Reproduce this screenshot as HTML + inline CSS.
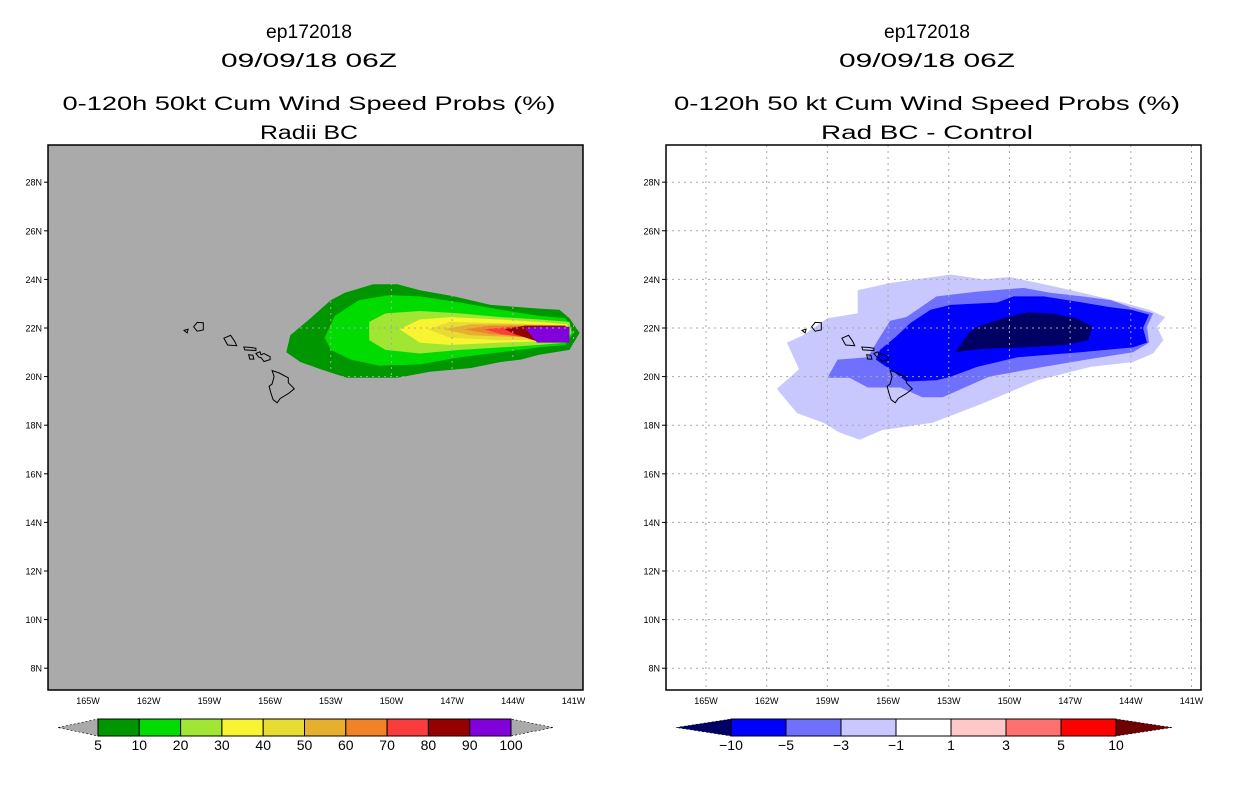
<!DOCTYPE html>
<html><head><meta charset="utf-8"><style>
html,body{margin:0;padding:0;background:#fff;width:1236px;height:800px;overflow:hidden}
svg text{font-family:"Liberation Sans",sans-serif;fill:#000}
</style></head><body>
<svg id="chart" width="1236" height="800" viewBox="0 0 1236 800" xmlns="http://www.w3.org/2000/svg"></svg>
<script>
// ---- data ----
const lonTicks=[165,162,159,156,153,150,147,144,141];
const latTicks=[8,10,12,14,16,18,20,22,24,26,28];
const probLevels=[5,10,20,30,40,50,60,70,80,90,100];
const probColors=['#009600','#00dc00','#a0e632','#f8f432','#e6dc32','#e6af2d','#f08228','#fa3c3c','#960000','#8200dc'];
const diffLevels=[-10,-5,-3,-1,1,3,5,10];
const diffColors=['#000064','#0000ff','#7070ff','#c8c8ff','#ffffff','#ffc8c8','#ff7070','#ff0000','#6e0000'];
// contour polygons [lonW, latN]
const prob5=[[155.2,21.0],[155.0,21.7],[154.0,22.4],[153.0,23.15],[152.3,23.45],[150.9,23.8],[149.7,23.8],[148.6,23.55],[146.9,23.3],[145.1,22.95],[142.7,22.8],[141.7,22.75],[141.2,22.4],[140.7,21.8],[141.2,21.1],[142.7,20.9],[143.6,20.7],[144.6,20.6],[146.1,20.35],[148.1,20.2],[149.7,19.95],[152.2,19.95],[153.5,20.3],[154.5,20.6]];
const prob10=[[153.3,21.6],[152.8,22.5],[151.6,23.15],[150.1,23.35],[148.6,23.3],[146.6,23.05],[144.6,22.75],[142.7,22.5],[141.4,22.4],[141.0,21.8],[141.4,21.3],[142.7,21.2],[144.6,21.0],[146.6,20.8],[148.6,20.5],[150.6,20.45],[152.0,20.7],[153.0,21.1]];
const prob20=[[151.1,22.25],[150.3,22.6],[148.6,22.7],[146.6,22.6],[144.6,22.45],[142.7,22.35],[141.2,22.25],[141.1,21.8],[141.4,21.4],[142.7,21.3],[144.6,21.2],[146.6,21.1],[148.6,20.95],[150.3,21.1],[151.1,21.5]];
const prob30=[[149.6,21.95],[148.6,22.35],[147.1,22.45],[144.6,22.35],[142.7,22.25],[141.3,22.15],[141.2,21.7],[142.7,21.45],[144.6,21.4],[147.1,21.3],[148.6,21.4]];
const prob40=[[148.2,21.95],[147.1,22.25],[144.6,22.2],[142.7,22.15],[141.3,22.1],[141.3,21.75],[142.7,21.5],[144.6,21.5],[147.1,21.6]];
const prob50=[[147.4,21.95],[146.1,22.15],[144.1,22.15],[141.4,22.1],[141.3,21.8],[142.7,21.6],[144.6,21.65],[146.1,21.7]];
const prob60=[[146.4,21.95],[145.1,22.1],[141.4,22.05],[141.4,21.7],[143.6,21.65],[145.1,21.75]];
const prob70=[[145.4,21.95],[144.1,22.05],[141.4,22.05],[141.4,21.5],[143.2,21.6],[144.6,21.75]];
const prob80=[[144.4,21.95],[143.4,22.1],[141.4,22.1],[141.4,21.45],[142.8,21.45],[143.9,21.75]];
const prob90=[[143.4,22.0],[142.9,22.05],[141.2,22.05],[141.2,21.4],[142.8,21.4]];
const probContours=[prob5,prob10,prob20,prob30,prob40,prob50,prob60,prob70,prob80,prob90];
const diff1=[[161.5,19.5],[160.4,20.3],[161.0,21.4],[160.2,21.7],[159.0,22.4],[157.5,22.6],[157.5,23.55],[155.9,23.85],[152.9,24.2],[151.3,24.0],[150.0,24.1],[148.0,23.75],[146.4,23.45],[144.4,23.05],[143.1,22.75],[142.3,22.45],[142.7,22.05],[142.4,21.5],[142.9,20.95],[143.9,20.6],[146.0,20.4],[148.6,19.85],[151.3,18.9],[153.8,18.1],[156.3,17.8],[157.4,17.4],[158.4,17.7],[159.2,18.1],[160.5,18.5]];
const diff3=[[159.0,19.95],[158.5,20.7],[157.0,20.8],[156.5,21.5],[155.9,22.3],[155.1,22.45],[153.6,23.3],[151.6,23.5],[149.3,23.65],[148.0,23.45],[146.4,23.3],[145.0,23.15],[144.0,22.85],[142.9,22.6],[143.2,22.05],[143.1,21.4],[143.9,21.0],[146.2,20.7],[149.0,20.3],[151.0,20.0],[153.3,19.15],[154.3,19.15],[155.4,19.55],[157.0,19.55],[157.9,19.95]];
const diff5=[[156.6,20.7],[156.4,21.1],[155.6,21.65],[154.9,22.2],[153.9,22.75],[152.9,22.95],[150.6,23.05],[149.8,23.3],[148.3,23.3],[146.4,23.05],[145.0,22.85],[144.0,22.75],[143.1,22.55],[143.4,22.0],[143.2,21.4],[143.9,21.2],[146.5,21.0],[149.6,20.8],[151.6,20.4],[152.9,20.0],[153.6,19.85],[155.1,19.8],[155.9,20.3]];
const diff10=[[152.7,21.0],[152.0,21.8],[151.6,22.05],[150.3,22.4],[149.1,22.65],[148.0,22.6],[146.7,22.4],[145.9,22.05],[146.1,21.5],[147.2,21.3],[149.3,21.2],[151.3,21.15]];
const diffContours=[diff1,diff3,diff5,diff10];
// island outlines [lonW, latN]
const islands=[
 [[155.9,20.25],[155.8,20.0],[155.9,19.7],[156.05,19.6],[155.95,19.3],[155.85,19.05],[155.65,18.92],[155.5,19.1],[155.1,19.3],[154.8,19.5],[155.1,19.75],[155.1,19.95],[155.55,20.15]],
 [[156.7,20.95],[156.55,20.8],[156.45,20.78],[156.3,20.62],[156.0,20.7],[156.0,20.82],[156.3,20.95],[156.45,20.9],[156.5,21.02]],
 [[157.3,21.22],[157.25,21.1],[156.7,21.07],[156.7,21.17],[157.0,21.2]],
 [[157.06,20.9],[156.85,20.88],[156.8,20.72],[157.0,20.72]],
 [[158.28,21.58],[158.1,21.3],[157.65,21.27],[157.75,21.45],[157.95,21.7]],
 [[159.78,22.05],[159.6,22.23],[159.3,22.22],[159.3,21.92],[159.6,21.87]],
 [[160.25,21.9],[160.05,21.95],[160.1,21.8]]
];
// ---- axes ----
const panels=[{x0:48,name:'radii-bc'},{x0:666,name:'difference'}];
const Y0=145,Y1=690,PX=20.23,PY=24.3;
function xOf(p,lonW){return p.x0+40+(165-lonW)*PX;}
function yOf(lat){return 328-(lat-22)*PY;}
const NS='http://www.w3.org/2000/svg';
const svg=document.getElementById('chart');
function mk(tag,attrs,parent){const e=document.createElementNS(NS,tag);for(const k in attrs)e.setAttribute(k,attrs[k]);(parent||svg).appendChild(e);return e;}
function pts(p,arr){return arr.map(d=>xOf(p,d[0]).toFixed(1)+','+yOf(d[1]).toFixed(1)).join(' ');}

panels.forEach((p,pi)=>{
  const g=mk('g',{});
  
  
  const clipId='clip'+pi;
  const cp=mk('clipPath',{id:clipId},g);mk('rect',{x:p.x0,y:Y0,width:535,height:Y1-Y0},cp);
  const bg=mk('rect',{x:p.x0,y:Y0,width:535,height:Y1-Y0,fill:pi===0?'#aaaaaa':'#ffffff'},g);
  
  
  const cg=mk('g',{'clip-path':'url(#'+clipId+')'},g);
  const conts=pi===0?probContours:diffContours;
  const cols=pi===0?probColors:diffColors.slice(0,4).reverse();
  conts.forEach((c,ci)=>{
    const pl=mk('polygon',{points:pts(p,c),fill:cols[ci]},cg);
    
    
  });
  // grid
  lonTicks.forEach(l=>{const x=xOf(p,l);mk('line',{x1:x,x2:x,y1:Y0,y2:Y1,stroke:'#a8a8a8','stroke-dasharray':'2,4','stroke-width':1},cg);});
  latTicks.forEach(l=>{const y=yOf(l);mk('line',{x1:p.x0,x2:p.x0+535,y1:y,y2:y,stroke:'#a8a8a8','stroke-dasharray':'2,4','stroke-width':1},cg);});
  islands.forEach(is=>{const ip=mk('polygon',{points:pts(p,is),fill:'none',stroke:'#000','stroke-width':1},cg);
    
    });
  mk('rect',{x:p.x0,y:Y0,width:535,height:Y1-Y0,fill:'none',stroke:'#000','stroke-width':1.5},g);
  lonTicks.forEach(l=>{const x=xOf(p,l);
    const t=mk('text',{x:x,y:Y1+14,'font-size':9,'text-anchor':'middle'},g);t.textContent=l+'W';
    
    });
  latTicks.forEach(l=>{const y=yOf(l);mk('line',{x1:p.x0-4,x2:p.x0,y1:y,y2:y,stroke:'#000'},g);
    const t=mk('text',{x:p.x0-6,y:y+3.5,'font-size':9,'text-anchor':'end'},g);t.textContent=l+'N';
    
    });
});

// titles
const titles=[
 [309,[['ep172018',38,86],['09/09/18 06Z',67,176],['0-120h 50kt Cum Wind Speed Probs (%)',110,493],['Radii BC',139,98]]],
 [927,[['ep172018',38,86],['09/09/18 06Z',67,176],['0-120h 50 kt Cum Wind Speed Probs (%)',110,506],['Rad BC - Control',139,212]]]
];
titles.forEach((tt,i)=>tt[1].forEach((l,j)=>{
  const t=mk('text',{x:tt[0],y:l[1],'font-size':19,'text-anchor':'middle',textLength:l[2],lengthAdjust:'spacingAndGlyphs'});
  t.textContent=l[0];
  
  
}));

// colorbars
function colorbar(x0,x1,tl,tr,levels,cols,boxCols,triL,triR,name){
  const g=mk('g',{});
  
  
  const y0=719,y1=736,ym=(y0+y1)/2,n=boxCols.length,w=(x1-x0)/n;
  mk('polygon',{points:`${tl},${ym} ${x0},${y0} ${x0},${y1}`,fill:triL,stroke:'#000','stroke-width':0.6,'stroke-dasharray':'2,2'},g);
  mk('polygon',{points:`${tr},${ym} ${x1},${y0} ${x1},${y1}`,fill:triR,stroke:'#000','stroke-width':0.6,'stroke-dasharray':'2,2'},g);
  boxCols.forEach((c,i)=>{const r=mk('rect',{x:x0+i*w,y:y0,width:w,height:y1-y0,fill:c,stroke:'#000','stroke-width':1},g);
    
    });
  levels.forEach((v,i)=>{const t=mk('text',{x:x0+i*w,y:y1+14,'font-size':14,'text-anchor':'middle'},g);t.textContent=String(v).replace('-','\u2212');
    
    });
}
colorbar(98,511,58,553,probLevels,probColors,probColors,'#aaaaaa','#aaaaaa','prob-colorbar');
colorbar(731,1116,676,1172,diffLevels,diffColors,diffColors.slice(1,8),diffColors[0],diffColors[8],'diff-colorbar');
</script>
</body></html>
